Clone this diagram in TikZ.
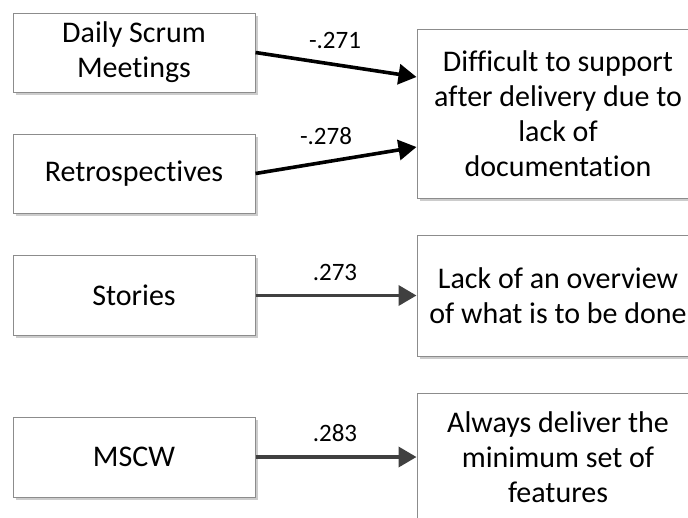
\documentclass[tikz,border=0pt]{standalone}
\usepackage{fontspec}
\setmainfont{Carlito}[Ligatures={NoCommon}]
\usetikzlibrary{arrows.meta,shadows}
\begin{document}
\begin{tikzpicture}[x=1pt,y=-1pt,
  box/.style={draw=black!45,line width=1pt,fill=white,
    drop shadow={shadow xshift=2.5pt,shadow yshift=-2.5pt,opacity=0.2,fill=black},
    align=center,inner sep=0pt,font=\fontsize{30}{35}\selectfont},
  lbl/.style={font=\fontsize{25}{29}\selectfont,inner sep=0pt},
  dark/.style={line width=3.6pt,draw=black,-{Triangle[length=18pt,width=20pt]}},
  grey/.style={line width=3.6pt,draw=black!75,-{Triangle[length=18pt,width=20pt]}}]
\useasboundingbox (0,0) rectangle (688,517);
\clip (0,0) rectangle (688,517);
\fill[white] (0,0) rectangle (688,517);

% causes
\node[box,minimum width=242pt,minimum height=79pt] (dsm) at (134,52.5) {Daily Scrum\\Meetings};
\node[box,minimum width=242pt,minimum height=79pt] (retro) at (134,173.5) {Retrospectives};
\node[box,minimum width=242pt,minimum height=80pt] (stories) at (134,295.5) {Stories};
\node[box,minimum width=242pt,minimum height=80pt] (mscw) at (134,457) {MSCW};

% effects
\node[box,minimum width=282pt,minimum height=169pt] (diff) at (558,113.5)
  {Difficult to support\\after delivery due to\\lack of\\documentation};
\node[box,minimum width=282pt,minimum height=121pt] (lack) at (558,295.5)
  {Lack of an overview\\of what is to be done};
\node[box,minimum width=282pt,minimum height=128pt] (always) at (558,457)
  {Always deliver the\\minimum set of\\features};

% correlations
\draw[dark] (dsm.east) -- ([yshift=36.5pt]diff.west);
\draw[dark] (retro.east) -- ([yshift=-33.5pt]diff.west);
\draw[grey] (stories.east) -- (lack.west);
\draw[grey] (mscw.east) -- (always.west);

\node[lbl] (l1) at (335,40) {-.271};
\node[lbl] (l2) at (326,136) {-.278};
\node[lbl] (l3) at (335,272) {.273};
\node[lbl] (l4) at (335,433) {.283};
\end{tikzpicture}
\end{document}
